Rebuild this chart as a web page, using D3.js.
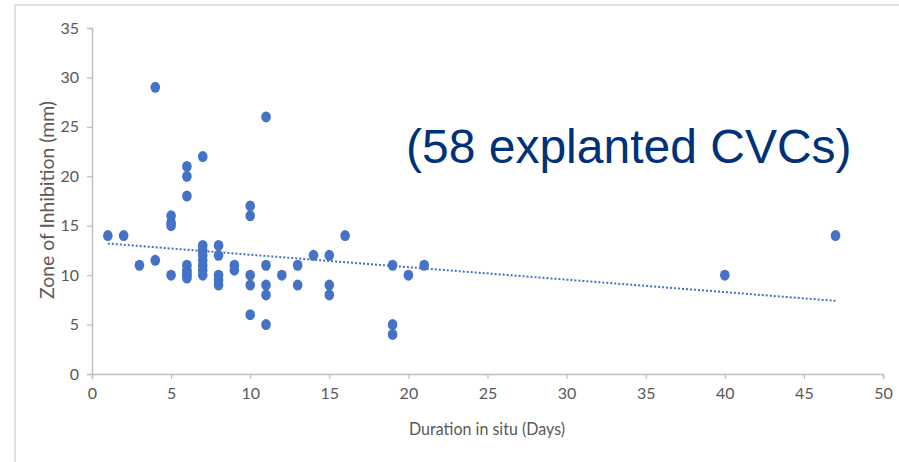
<!DOCTYPE html>
<html>
<head>
<meta charset="utf-8">
<script src="https://cdn.jsdelivr.net/npm/d3@7"></script>
<style>
  html, body { margin: 0; padding: 0; background: #fff; }
  svg { display: block; }
</style>
</head>
<body>
<svg width="899" height="462"></svg>
<script>
// values: duration in situ (days) and zone of inhibition (mm)
const days = [1, 2, 3, 4, 4, 5, 5, 5, 5,
  6, 6, 6, 6, 6, 6, 6, 6,
  7, 7, 7, 7, 7, 7, 7, 7,
  8, 8, 8, 8, 8,
  9, 9,
  10, 10, 10, 10, 10,
  11, 11, 11, 11, 11,
  12, 13, 13, 14, 15, 15, 15, 16,
  19, 19, 19, 20, 21, 40, 47]
const zone = [14, 14, 11, 29, 11.5, 16, 15.3, 15, 10,
  21, 20, 18, 11, 10.5, 10.2, 10, 9.7,
  22, 13, 12.5, 12, 11.5, 11, 10.5, 10,
  13, 12, 10, 9.5, 9,
  11, 10.5,
  17, 16, 10, 9, 6,
  26, 11, 9, 8, 5,
  10, 11, 9, 12, 12, 9, 8, 14,
  11, 5, 4, 10, 11, 10, 14]

// linear trend line (Excel style), start and end in data units
const trendX = [1, 47]
const trendY = [13.2, 7.4]

const xTicks = [0, 5, 10, 15, 20, 25, 30, 35, 40, 45, 50]
const yTicks = [0, 5, 10, 15, 20, 25, 30, 35]

const svg = d3.select('svg')
const grey = '#595959'
const axisColor = '#bfbfbf'
const blue = '#4472c4'
const font = 'Lato, sans-serif'

// outer frame (only left and top edges visible)
svg.append('path')
  .attr('d', 'M15,462 V5 H899')
  .attr('fill', 'none')
  .attr('stroke', '#d9d9d9')
  .attr('stroke-width', 1.5)

const x = d3.scaleLinear().domain([0, 50]).range([92, 883])
const y = d3.scaleLinear().domain([0, 35]).range([374, 28])

const xAxis = svg.append('g')
  .attr('transform', `translate(0,${y(0)})`)
  .call(d3.axisBottom(x).tickValues(xTicks).tickSize(5).tickPadding(9))
const yAxis = svg.append('g')
  .attr('transform', `translate(${x(0)},0)`)
  .call(d3.axisLeft(y).tickValues(yTicks).tickSize(5).tickPadding(8))

;[xAxis, yAxis].forEach(function (g) {
  g.select('.domain').attr('stroke', axisColor).attr('stroke-width', 1.5)
  g.selectAll('.tick line').attr('stroke', axisColor).attr('stroke-width', 1.2)
  g.selectAll('.tick text')
    .attr('fill', grey)
    .attr('font-family', font)
    .attr('font-size', 16)
})

// trend line, dotted
svg.append('line')
  .attr('x1', x(trendX[0])).attr('y1', y(trendY[0]))
  .attr('x2', x(trendX[1])).attr('y2', y(trendY[1]))
  .attr('stroke', blue)
  .attr('stroke-width', 2)
  .attr('stroke-dasharray', '2,2')

// the points
svg.append('g')
  .selectAll('ellipse')
  .data(days.map((d, i) => ({ d: d, z: zone[i] })))
  .enter().append('ellipse')
    .attr('cx', p => x(p.d))
    .attr('cy', p => y(p.z))
    .attr('rx', 4.8)
    .attr('ry', 5.5)
    .attr('fill', blue)

// axis titles
svg.append('text')
  .attr('x', 487).attr('y', 435)
  .attr('text-anchor', 'middle')
  .attr('fill', grey)
  .attr('font-family', font)
  .attr('font-size', 18)
  .attr('textLength', 156)
  .attr('lengthAdjust', 'spacingAndGlyphs')
  .text('Duration in situ (Days)')

svg.append('text')
  .attr('transform', 'translate(54,200) rotate(-90)')
  .attr('text-anchor', 'middle')
  .attr('fill', grey)
  .attr('font-family', font)
  .attr('font-size', 19)
  .attr('textLength', 198)
  .attr('lengthAdjust', 'spacingAndGlyphs')
  .text('Zone of Inhibition (mm)')

// annotation
svg.append('text')
  .attr('x', 406).attr('y', 163)
  .attr('fill', '#003278')
  .attr('font-family', '"Liberation Sans", Arial, sans-serif')
  .attr('font-size', 48)
  .text('(58 explanted CVCs)')
</script>
</body>
</html>
